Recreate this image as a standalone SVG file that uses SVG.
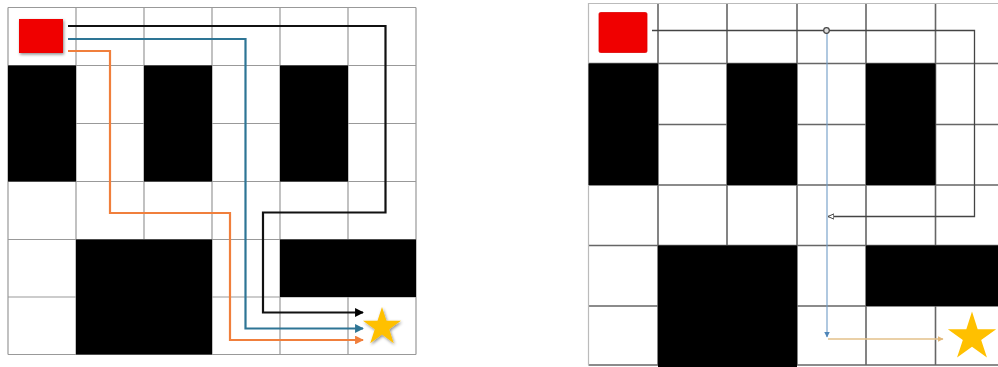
<svg xmlns="http://www.w3.org/2000/svg" xmlns:xlink="http://www.w3.org/1999/xlink" width="998" height="367" viewBox="0 0 998 367">
  <style>
    .grid-l { fill: none; stroke: #999; stroke-width: 1.2; }
    .grid-r { fill: none; stroke: #666; stroke-width: 1.6; }
    .wall { fill: #000; }
    .start { fill: #f00000; }
    .goal { fill: #ffc000; }
    .conn { fill: none; stroke-linejoin: miter; }
  </style>
  <defs>
    <filter id="shadow" x="-30%" y="-30%" width="160%" height="160%">
      <feDropShadow dx="1" dy="1.5" stdDeviation="1.5" flood-color="#000" flood-opacity="0.45"/>
    </filter>
    <path id="star" d="M0,-20 L4.47,-6.15 L19.02,-6.18 L7.23,2.35 L11.76,16.18 L0,7.6 L-11.76,16.18 L-7.23,2.35 L-19.02,-6.18 L-4.47,-6.15 Z"/>
    <marker id="arrBlack" viewBox="0 0 10 10" refX="9" refY="5" markerWidth="4" markerHeight="4" orient="auto" markerUnits="strokeWidth">
      <path d="M0,0 L10,5 L0,10 Z" fill="#000"/>
    </marker>
    <marker id="arrBlue" viewBox="0 0 10 10" refX="9" refY="5" markerWidth="4" markerHeight="4" orient="auto" markerUnits="strokeWidth">
      <path d="M0,0 L10,5 L0,10 Z" fill="#2e7595"/>
    </marker>
    <marker id="arrOrange" viewBox="0 0 10 10" refX="9" refY="5" markerWidth="4" markerHeight="4" orient="auto" markerUnits="strokeWidth">
      <path d="M0,0 L10,5 L0,10 Z" fill="#f07f3c"/>
    </marker>
    <marker id="arrGrayOpen" viewBox="0 0 10 10" refX="9" refY="5" markerWidth="5" markerHeight="5" orient="auto" markerUnits="strokeWidth">
      <path d="M0,1 L9,5 L0,9 Z" fill="#fff" stroke="#444" stroke-width="1.5"/>
    </marker>
    <marker id="arrBlueR" viewBox="0 0 10 10" refX="9" refY="5" markerWidth="5" markerHeight="5" orient="auto" markerUnits="strokeWidth">
      <path d="M0,0 L10,5 L0,10 Z" fill="#4f86b8"/>
    </marker>
    <marker id="arrTan" viewBox="0 0 10 10" refX="9" refY="5" markerWidth="4" markerHeight="4" orient="auto" markerUnits="strokeWidth">
      <path d="M0,0 L10,5 L0,10 Z" fill="#e3b97a"/>
    </marker>
  </defs>

  <rect x="0" y="0" width="998" height="367" fill="#fff"/>

  <!-- LEFT GRID -->
  <g id="left-grid">
    <path class="grid-l" d="M8,7.5 V354.5 M76,7.5 V354.5 M144,7.5 V354.5 M212,7.5 V354.5 M280,7.5 V354.5 M348,7.5 V354.5 M416,7.5 V354.5 M8,7.5 H416 M8,65.5 H416 M8,123.5 H416 M8,181.5 H416 M8,239.5 H416 M8,297 H416 M8,354.5 H416"/>
  </g>
  <g id="left-wall-1"><rect class="wall" x="8" y="65.5" width="68" height="116"/></g>
  <g id="left-wall-2"><rect class="wall" x="144" y="65.5" width="68" height="116"/></g>
  <g id="left-wall-3"><rect class="wall" x="280" y="65.5" width="68" height="116"/></g>
  <g id="left-wall-4"><rect class="wall" x="76" y="239.5" width="136" height="115"/></g>
  <g id="left-wall-5"><rect class="wall" x="280" y="239.5" width="136" height="57.5"/></g>
  <g id="left-start"><rect class="start" x="19" y="19" width="44" height="34" filter="url(#shadow)"/></g>
  <g id="left-goal"><use xlink:href="#star" class="goal" transform="translate(382,327)" filter="url(#shadow)"/></g>

  <g id="left-connectors" class="conn">
    <path d="M68,26 H385.5 V212.5 H263 V312.5 H363" stroke="#111" stroke-width="2.2" marker-end="url(#arrBlack)"/>
    <path d="M68,39 H245.5 V328.5 H363" stroke="#2e7595" stroke-width="2.2" marker-end="url(#arrBlue)"/>
    <path d="M68,51 H110 V213 H230 V340 H363" stroke="#f07f3c" stroke-width="2.2" marker-end="url(#arrOrange)"/>
  </g>

  <!-- RIGHT GRID -->
  <g id="right-grid">
    <path class="grid-r" d="M658,3.5 V365 M727,3.5 V365 M797,3.5 V365 M866,3.5 V365 M935.5,3.5 V365 M588.5,63.5 H998 M588.5,124.5 H998 M588.5,185 H998 M588.5,245.5 H998 M588.5,306 H998 M588.5,365 H998"/>
    <path d="M588.5,365 V3.5 H998" fill="none" stroke="#bbb" stroke-width="1.2"/>
  </g>
  <g id="right-wall-1"><rect class="wall" x="588.5" y="63.5" width="69.5" height="121.5"/></g>
  <g id="right-wall-2"><rect class="wall" x="727" y="63.5" width="70" height="121.5"/></g>
  <g id="right-wall-3"><rect class="wall" x="866" y="63.5" width="69.5" height="121.5"/></g>
  <g id="right-wall-4"><rect class="wall" x="658" y="245.5" width="139" height="121.5"/></g>
  <g id="right-wall-5"><rect class="wall" x="866" y="245.5" width="132" height="60.5"/></g>
  <g id="right-start"><rect class="start" x="599" y="12.5" width="48" height="40" rx="1.5" stroke="#d00" stroke-width="0.8"/></g>
  <g id="right-goal"><use xlink:href="#star" class="goal" transform="translate(972,337) scale(1.27)"/></g>

  <g id="right-connectors" class="conn">
    <path d="M652,30.5 H974.5 V216.5 H828" stroke="#444" stroke-width="1.3" marker-end="url(#arrGrayOpen)"/>
    <path d="M827,33 V337" stroke="#6f9cc6" stroke-width="1.1" marker-end="url(#arrBlueR)"/>
    <path d="M828,339 H943" stroke="#e3c08a" stroke-width="1.4" marker-end="url(#arrTan)"/>
    <circle cx="826.5" cy="30.5" r="2.8" fill="#ddd" stroke="#444" stroke-width="1.2"/>
  </g>
</svg>
